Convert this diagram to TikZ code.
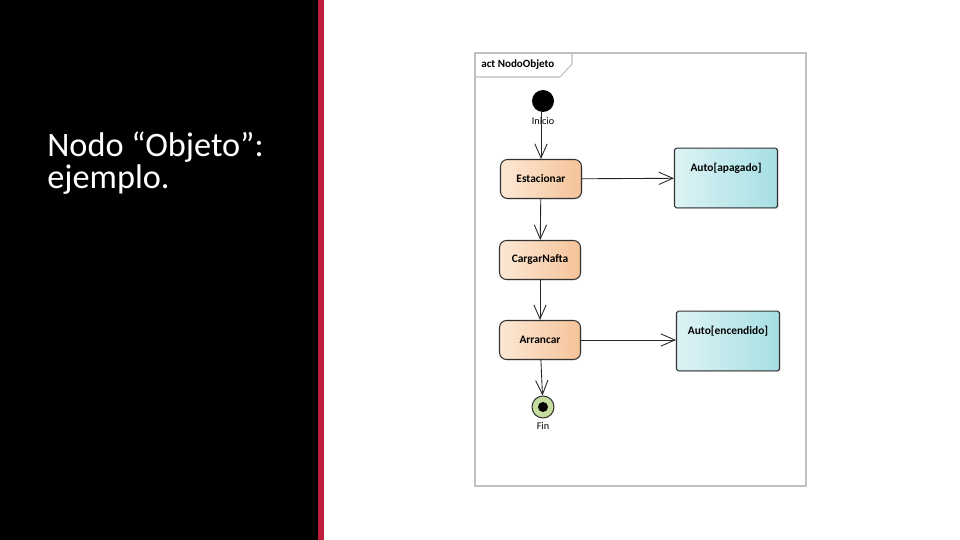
\documentclass[tikz,border=0pt]{standalone}
\usepackage{fontspec}
\setmainfont{Carlito}
\usetikzlibrary{arrows.meta,shadows}

\definecolor{slidered}{HTML}{BE1E3C}
\definecolor{actlight}{HTML}{FDE8D4}
\definecolor{actdark}{HTML}{F5C399}
\definecolor{objlight}{HTML}{DDF3F5}
\definecolor{objdark}{HTML}{A6DFE3}
\definecolor{fingreen}{HTML}{C5DE9E}

\tikzset{
  accion/.style={draw=black!80, line width=0.6pt, rounded corners=4pt, minimum width=1.62cm, minimum height=0.78cm,
    left color=actlight, right color=actdark, font=\fontsize{6.5}{7.5}\selectfont\bfseries,
    drop shadow={opacity=0.25, shadow xshift=0.5pt, shadow yshift=-0.5pt}},
  objeto/.style={draw=black!80, line width=0.6pt, rounded corners=1pt, minimum width=2.06cm, minimum height=1.12cm,
    left color=objlight, right color=objdark, font=\fontsize{6.5}{7.5}\selectfont\bfseries,
    text height=9.8pt, text depth=17.6pt,
    drop shadow={opacity=0.25, shadow xshift=0.5pt, shadow yshift=-0.5pt}},
  flujo/.style={draw=black!85, line width=0.5pt, -{Straight Barb[length=8pt,width=7pt]}},
  etiqueta/.style={font=\fontsize{5.8}{6.5}\selectfont, inner sep=0pt}
}

\begin{document}
\begin{tikzpicture}[x=0.02cm,y=-0.02cm]
\useasboundingbox (0,0) rectangle (960,540);
\fill[white] (0,0) rectangle (960,540);
\fill[black] (0,0) rectangle (318,540);
\fill[slidered] (318,0) rectangle (324,540);
\node[anchor=north west, inner sep=0pt, align=left, text=white, font=\fontsize{19.5}{18.7}\selectfont] (titulo) at (47,131) {Nodo “Objeto”:\\ejemplo.};

\draw[black!25, line width=0.6pt] (475,53) rectangle (806,486);
\draw[black!25, line width=0.6pt] (475,77) -- (560,77) -- (572,64) -- (572,53);
\node[anchor=west, inner sep=0pt, font=\fontsize{6.3}{7}\selectfont\bfseries] (marco) at (481,65) {act NodoObjeto};

\node[circle, fill=black, minimum size=0.44cm, inner sep=0pt] (inicio) at (543,101) {};
\node[etiqueta] (lblinicio) at (543,121) {Inicio};
\node[accion] (estacionar) at (541,179) {Estacionar};
\node[accion] (cargar) at (540,260) {CargarNafta};
\node[accion] (arrancar) at (540,340) {Arrancar};
\node[objeto] (apagado) at (726,178) {Auto[apagado]};
\node[objeto] (encendido) at (728,341) {Auto[encendido]};
\node[circle, draw=black!80, fill=fingreen, minimum size=0.44cm, inner sep=0pt, line width=0.6pt] (fin) at (543,407) {};
\fill[black] (fin.center) circle (0.1cm);
\node[etiqueta] (lblfin) at (543,426) {Fin};

\draw[flujo] (inicio.south) ++(-2,0) coordinate (ini) -- (ini |- estacionar.north);
\draw[flujo] (estacionar) -- (apagado);
\draw[flujo] (estacionar) -- (cargar);
\draw[flujo] (cargar) -- (arrancar);
\draw[flujo] (arrancar) -- (arrancar -| encendido.west);
\draw[flujo] (arrancar) -- (fin);
\end{tikzpicture}
\end{document}
